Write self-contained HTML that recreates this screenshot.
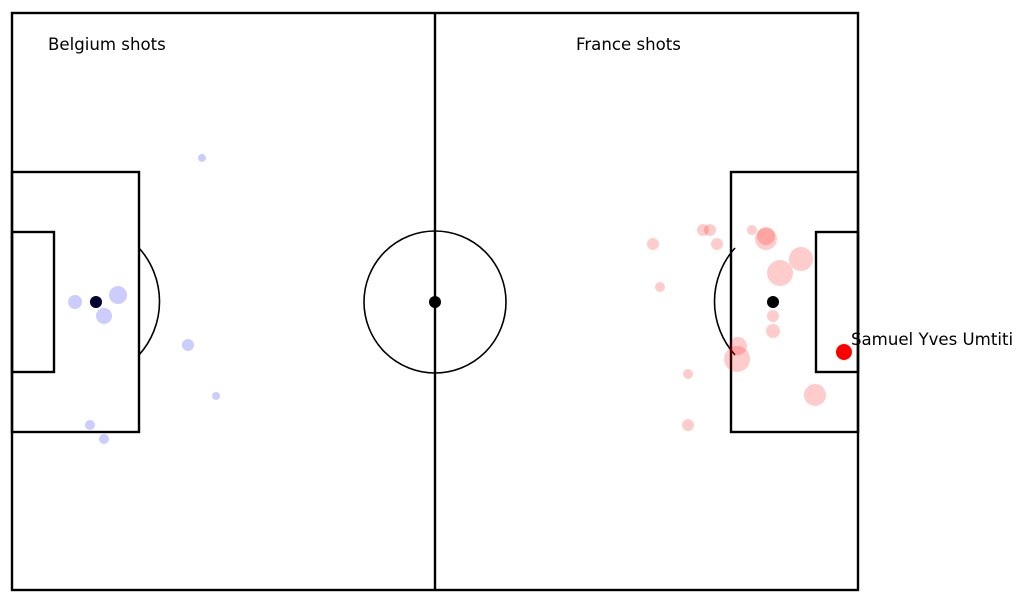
<!DOCTYPE html>
<html><head><meta charset="utf-8"><style>
html,body{margin:0;padding:0;background:#fff;}
svg{display:block;font-family:"DejaVu Sans","Liberation Sans",sans-serif;}
</style></head><body>
<svg id="chart" width="1024" height="609" viewBox="0 0 1024 609">
<g fill="none" stroke="#000" stroke-width="2.4">
<rect x="12" y="13" width="846" height="577"/>
<line x1="435" y1="13" x2="435" y2="590"/>
<circle cx="435" cy="302" r="71" stroke-width="1.6"/>
<rect x="12" y="172" width="127" height="260"/>
<rect x="12" y="232" width="42" height="140"/>
<rect x="731" y="172" width="127" height="260"/>
<rect x="816" y="232" width="42" height="140"/>
<path d="M139,248 A80,80 0 0 1 139,355" stroke-width="1.6"/>
<path d="M735,248 A80,80 0 0 0 735,355" stroke-width="1.6"/>
</g>
<circle cx="435" cy="302" r="6" fill="#000"/>
<circle cx="96" cy="302" r="6" fill="#000"/>
<circle cx="773" cy="302" r="6" fill="#000"/>
<g id="shots"></g>
<text x="48" y="50" font-size="16.6">Belgium shots</text>
<text x="576" y="50" font-size="16.6">France shots</text>
</svg>
<script>
// Pitch coordinates (120 x 80), radius in px
const belX=[26.95,8.94,11.9,15.04,13.05,24.96,28.94,11.06,13.05];
const belY=[20.1,40.07,40.07,39.1,42.0,46.03,53.1,57.12,59.06];
const belR=[4,7,6,9,8,6,4,5,5];
const fraX=[90.92,98.01,99.0,100.0,104.96,106.95,106.95,108.94,111.91,91.91,107.94,107.94,102.98,102.84,95.89,113.9,95.89];
const fraY=[32.03,30.09,30.09,32.03,30.09,31.33,30.92,36.05,34.11,37.99,42.01,44.09,46.17,47.97,50.05,52.96,57.12];
const fraR=[6,6,6,6,5,11,9,13,12,5,6,7,9,13,5,11,6];
const goalX=[118.01], goalY=[47.0], goalR=[8], goalNames=["Samuel Yves Umtiti"];
const sx=v=>12+v*846/120, sy=v=>13+v*577/80;
const g=document.getElementById('shots');
const NS='http://www.w3.org/2000/svg';
function dot(x,y,r,fill,op,name){
  const c=document.createElementNS(NS,'circle');
  c.setAttribute('cx',sx(x));c.setAttribute('cy',sy(y));c.setAttribute('r',r);
  c.setAttribute('fill',fill);c.setAttribute('fill-opacity',op);
  
  
  g.appendChild(c);
}
belX.forEach((x,i)=>dot(x,belY[i],belR[i],'#0000ff',0.2,'belgium-shot'));
fraX.forEach((x,i)=>dot(x,fraY[i],fraR[i],'#ff0000',0.2,'france-shot'));
goalX.forEach((x,i)=>{
  dot(x,goalY[i],goalR[i],'#ff0000',1,'france-goal');
  const t=document.createElementNS(NS,'text');
  t.setAttribute('x',sx(x)+7);t.setAttribute('y',sy(goalY[i])-7);
  t.setAttribute('font-size','16.6');
  
  
  t.textContent=goalNames[i];
  document.getElementById('chart').appendChild(t);
});
</script>
</body></html>
